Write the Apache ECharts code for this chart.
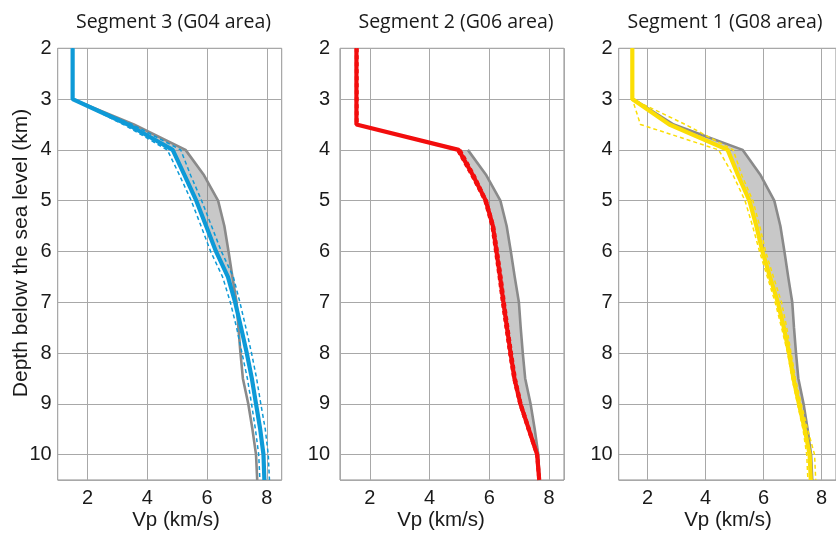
<!DOCTYPE html>
<html>
<head>
<meta charset="utf-8">
<script src="https://cdn.jsdelivr.net/npm/echarts@6/dist/echarts.min.js"></script>
<style>
  html, body { margin: 0; padding: 0; background: #ffffff; }
  #chart { width: 836px; height: 534px; }
</style>
</head>
<body>
<div id="chart"></div>
<script>
// Depth samples (km below sea level) shared by every profile
const depthKm = [2, 3, 3.5, 4, 4.5, 5, 5.5, 6, 6.5, 7, 7.5, 8, 8.5, 9, 9.5, 10, 10.5];

// Reference Vp profile (grey), km/s
const refSeg3 = [null, 1.5, 3.55, 5.28, 5.9, 6.37, 6.58, 6.72, 6.85, 6.99, 7.05, 7.12, 7.2, 7.38, 7.52, 7.64, 7.68];
const refSeg2 = [null, null, null, 5.28, 5.9, 6.37, 6.58, 6.72, 6.85, 6.99, 7.05, 7.12, 7.2, 7.38, 7.52, 7.64, 7.68];
const refSeg1 = [null, 1.5, 2.9, 5.28, 5.9, 6.37, 6.58, 6.72, 6.85, 6.99, 7.05, 7.12, 7.2, 7.38, 7.52, 7.64, 7.68];

// Segment 3 (G04 area): model and its bounds
const vpSeg3   = [1.5, 1.5, 3.35, 4.85, 5.25, 5.64, 5.97, 6.3, 6.7, 6.94, 7.14, 7.33, 7.5, 7.64, 7.78, 7.89, 7.92];
const vpSeg3Lo = [1.5, 1.5, 3.2, 4.67, 5.08, 5.47, 5.8, 6.12, 6.52, 6.78, 6.99, 7.17, 7.35, 7.49, 7.62, 7.73, 7.77];
const vpSeg3Hi = [1.5, 1.5, 3.5, 5.12, 5.45, 5.82, 6.15, 6.48, 6.88, 7.1, 7.3, 7.49, 7.66, 7.8, 7.95, 8.05, 8.09];

// Segment 2 (G06 area)
const vpSeg2   = [1.55, 1.55, 1.55, 4.97, 5.45, 5.88, 6.12, 6.24, 6.36, 6.47, 6.59, 6.71, 6.84, 7.04, 7.32, 7.6, 7.67];
const vpSeg2Lo = [1.52, 1.52, 1.52, 4.9, 5.38, 5.82, 6.06, 6.18, 6.3, 6.41, 6.53, 6.65, 6.79, 6.99, 7.27, 7.56, 7.63];
const vpSeg2Hi = [1.6, 1.6, 1.6, 5.05, 5.52, 5.93, 6.17, 6.3, 6.42, 6.53, 6.65, 6.77, 6.9, 7.09, 7.37, 7.64, 7.71];

// Segment 1 (G08 area)
const vpSeg1   = [1.47, 1.47, 2.75, 4.76, 5.12, 5.51, 5.75, 5.96, 6.22, 6.49, 6.7, 6.88, 7.03, 7.22, 7.42, 7.59, 7.63];
const vpSeg1Lo = [1.47, 1.47, 1.75, 4.45, 4.95, 5.36, 5.62, 5.86, 6.13, 6.4, 6.62, 6.83, 6.98, 7.17, 7.36, 7.49, 7.53];
const vpSeg1Hi = [1.47, 1.47, 3.3, 4.95, 5.25, 5.63, 5.87, 6.07, 6.34, 6.62, 6.8, 6.95, 7.1, 7.3, 7.52, 7.76, 7.8];

const panelTitles = ['Segment 3 (G04 area)', 'Segment 2 (G06 area)', 'Segment 1 (G08 area)'];
const xAxisTitle = 'Vp (km/s)';
const yAxisTitle = 'Depth below the sea level (km)';

const panels = [
  { title: panelTitles[0], color: '#0e9ad7', solid: vpSeg3, lo: vpSeg3Lo, hi: vpSeg3Hi, ref: refSeg3,
    left: 57.7, labelMargin: 6, titleX: 173.5, nameX: 176 },
  { title: panelTitles[1], color: '#f20d0d', solid: vpSeg2, lo: vpSeg2Lo, hi: vpSeg2Hi, ref: refSeg2,
    left: 340, labelMargin: 10, titleX: 456, nameX: 441 },
  { title: panelTitles[2], color: '#fbde05', solid: vpSeg1, lo: vpSeg1Lo, hi: vpSeg1Hi, ref: refSeg1,
    left: 618.7, labelMargin: 6, titleX: 725, nameX: 728 }
];

const TOP = 48.3, HEIGHT = 431.7, WIDTH = 224;
const tickFont = { fontSize: 20, fontFamily: 'Liberation Sans, Arial, sans-serif', color: '#1a1a1a' };

function toPoints(vals) {
  const out = [];
  vals.forEach((v, k) => { if (v != null) out.push([v, depthKm[k]]); });
  return out;
}

const grids = [], xAxes = [], yAxes = [], series = [], graphics = [];

panels.forEach((p, i) => {
  grids.push({ left: p.left, top: TOP, width: WIDTH, height: HEIGHT, show: true,
               borderColor: '#8c8c8c', borderWidth: 1, backgroundColor: 'transparent' });
  xAxes.push({
    gridIndex: i, type: 'value', min: 1, max: 8.5, splitNumber: 4,
    axisLine: { show: false }, axisTick: { show: false },
    splitLine: { show: true, lineStyle: { color: '#a8a8a8', width: 1 } },
    axisLabel: Object.assign({ margin: 8, showMinLabel: false, showMaxLabel: false }, tickFont)
  });
  yAxes.push({
    gridIndex: i, type: 'value', min: 2, max: 10.5, interval: 1, inverse: true,
    axisLine: { show: false }, axisTick: { show: false },
    splitLine: { show: true, lineStyle: { color: '#a8a8a8', width: 1 } },
    axisLabel: Object.assign({ margin: p.labelMargin, showMaxLabel: false }, tickFont)
  });

  // Shaded area where the model is slower than the reference
  const band = [];
  depthKm.forEach((d, k) => { if (p.ref[k] != null) band.push([p.ref[k], d]); });
  for (let k = depthKm.length - 1; k >= 0; k--) {
    if (p.ref[k] != null) band.push([Math.min(p.ref[k], p.solid[k]), depthKm[k]]);
  }
  series.push({
    type: 'custom', xAxisIndex: i, yAxisIndex: i, data: band, silent: true, z: 1, clip: true,
    renderItem: (params, api) => {
      if (params.dataIndex !== 0) return null;
      return { type: 'polygon', shape: { points: band.map(pt => api.coord(pt)) },
               style: { fill: 'rgba(125,125,125,0.42)' } };
    }
  });

  // Reference profile
  series.push({ type: 'line', xAxisIndex: i, yAxisIndex: i, data: toPoints(p.ref),
    symbol: 'none', z: 2, lineStyle: { color: '#8a8a8a', width: 2.6 } });
  // Bounds (dashed)
  [p.lo, p.hi].forEach(arr => series.push({ type: 'line', xAxisIndex: i, yAxisIndex: i, data: toPoints(arr),
    symbol: 'none', z: 3, lineStyle: { color: p.color, width: 1.5, type: [4, 3] } }));
  // Model profile
  series.push({ type: 'line', xAxisIndex: i, yAxisIndex: i, data: toPoints(p.solid),
    symbol: 'none', z: 4, lineStyle: { color: p.color, width: 4.2 } });

  graphics.push({ type: 'text', x: p.titleX, y: 22, silent: true,
    style: { text: p.title, fill: '#1a1a1a', font: '19.5px "Open Sans", sans-serif',
             textAlign: 'center', textVerticalAlign: 'middle' } });
  graphics.push({ type: 'text', x: p.nameX, y: 520, silent: true,
    style: { text: xAxisTitle, fill: '#1a1a1a', font: '20.5px "Liberation Sans", Arial, sans-serif',
             textAlign: 'center', textVerticalAlign: 'middle' } });
});

graphics.push({ type: 'text', x: 21, y: 253, rotation: Math.PI / 2, silent: true,
  style: { text: yAxisTitle, fill: '#1a1a1a', font: '21px "Liberation Sans", Arial, sans-serif',
           textAlign: 'center', textVerticalAlign: 'middle' } });

const chart = echarts.init(document.getElementById('chart'));
chart.setOption({
  animation: false,
  backgroundColor: '#ffffff',
  grid: grids,
  xAxis: xAxes,
  yAxis: yAxes,
  series: series,
  graphic: graphics
});
</script>
</body>
</html>
